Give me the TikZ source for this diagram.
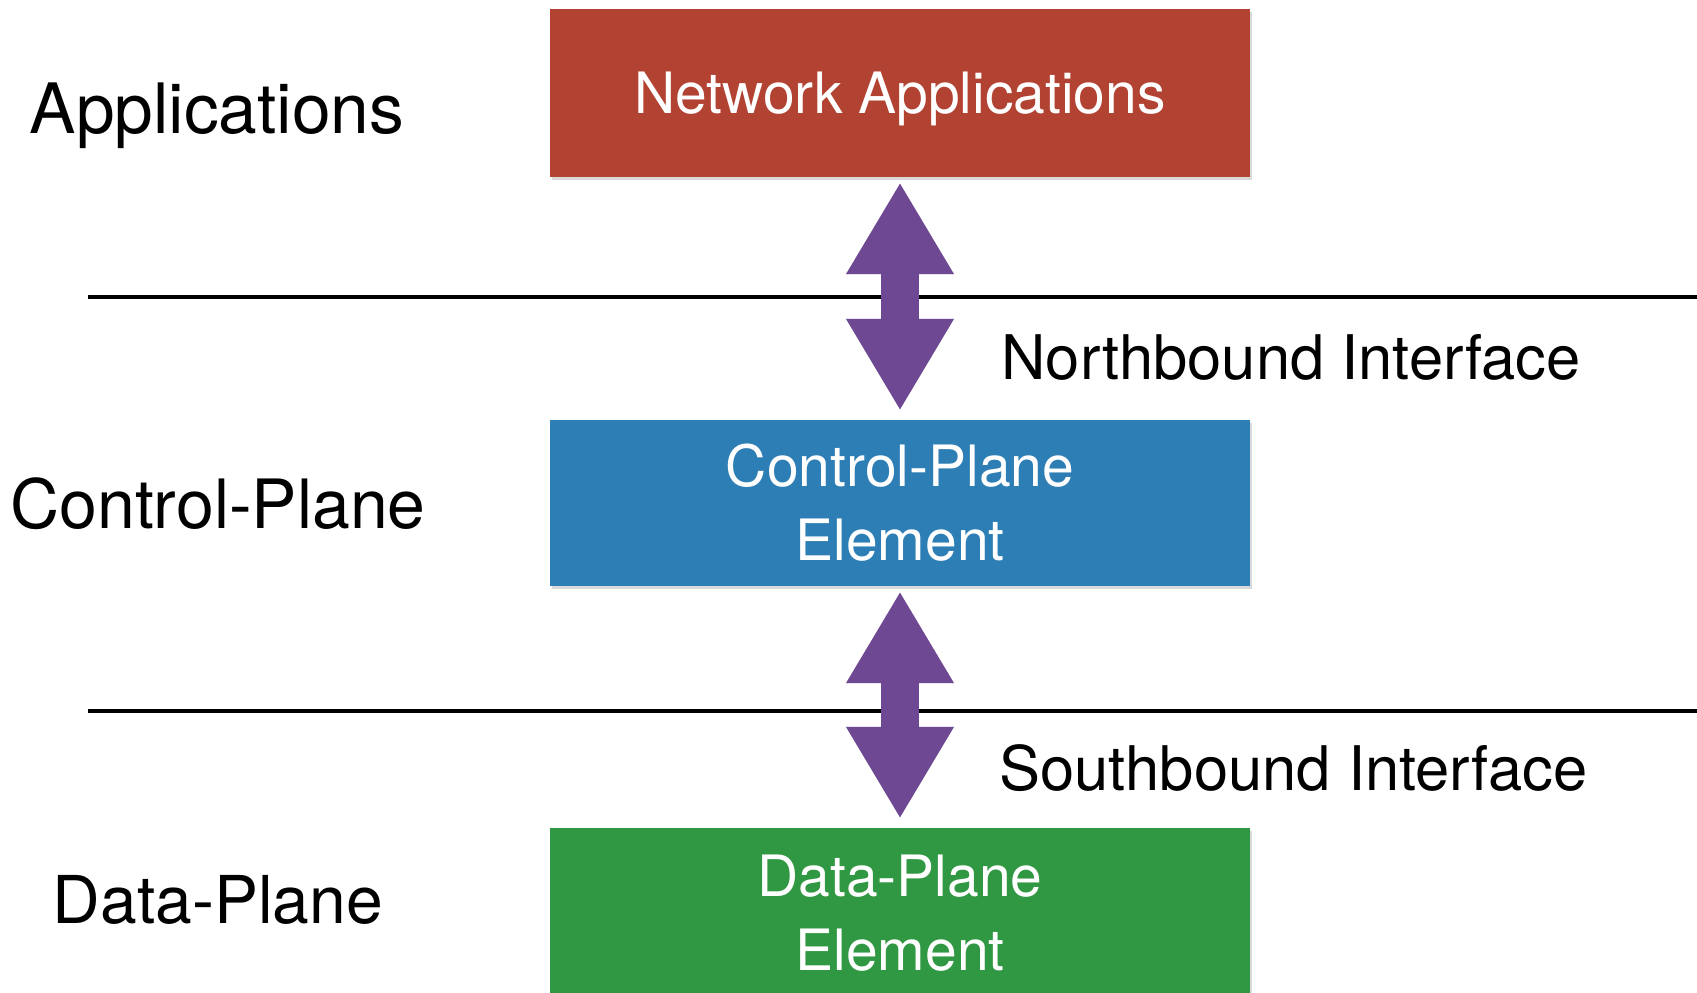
\documentclass[tikz,border=0pt]{standalone}
\usepackage{fontspec}
\setmainfont{TeX Gyre Heros}
\usetikzlibrary{arrows.meta}
\usetikzlibrary{shadows}
\definecolor{appred}{RGB}{178,66,50}
\definecolor{ctrlblue}{RGB}{46,126,182}
\definecolor{datagreen}{RGB}{48,151,66}
\definecolor{ifpurple}{RGB}{111,72,148}
\tikzset{
  layerbox/.style={minimum width=700pt,minimum height=168pt,inner sep=0pt,text=white,align=center,
    font=\fontsize{57}{74}\selectfont,drop shadow={shadow xshift=2pt,shadow yshift=-3pt,opacity=.3}},
  planelabel/.style={font=\fontsize{68}{80}\selectfont},
  iflabel/.style={anchor=west,font=\fontsize{61.5}{70}\selectfont},
  iface/.style={line width=38pt,ifpurple,{Triangle[length=92pt,width=101pt]}-{Triangle[length=92pt,width=101pt]},shorten <=5pt,shorten >=9pt},
  ifshadow/.style={iface,black!35,opacity=.5,xshift=2pt,yshift=-3pt}
}
\begin{document}
\begin{tikzpicture}[x=1pt,y=-1pt]
\useasboundingbox (0,0) rectangle (1697,993);
\clip (0,0) rectangle (1697,993);
\draw [line width=3.5pt] (88,297)--(1697,297);
\draw [line width=3.5pt] (88,711)--(1697,711);
\node [layerbox,fill=appred,text height=54pt] (apps) at (900,93) {Network Applications};
\node [layerbox,fill=ctrlblue,minimum height=166pt] (ctrl) at (900,503) {Control-Plane\\Element};
\node [layerbox,fill=datagreen,minimum height=170pt] (data) at (900,913) {Data-Plane\\Element};
\node [planelabel,font=\fontsize{69.5}{80}\selectfont] (applbl) at (217,116) {Applications};
\node [planelabel] (ctrllbl) at (218,504) {Control-Plane};
\node [planelabel,font=\fontsize{66}{80}\selectfont] (datalbl) at (218,900) {Data-Plane};
\draw [ifshadow] (apps.south) -- (ctrl.north);
\draw [iface] (apps.south) -- (ctrl.north);
\draw [ifshadow] (ctrl.south) -- (data.north);
\draw [iface] (ctrl.south) -- (data.north);
\node [iflabel] (nbi) at (998,357) {Northbound Interface};
\node [iflabel] (sbi) at (996,768) {Southbound Interface};
\end{tikzpicture}
\end{document}
